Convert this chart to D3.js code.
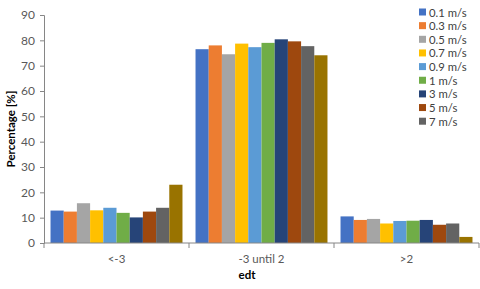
<!DOCTYPE html>
<html>
<head>
<meta charset="utf-8">
<script src="https://cdn.jsdelivr.net/npm/d3@7"></script>
<style>
  body { margin: 0; background: #fff; }
  text { font-family: Lato, "Open Sans", sans-serif; }
</style>
</head>
<body>
<svg width="480" height="289"></svg>
<script>
var categories = ['<-3', '-3 until 2', '>2'];
var seriesNames = ['0.1 m/s', '0.3 m/s', '0.5 m/s', '0.7 m/s', '0.9 m/s', '1 m/s', '3 m/s', '5 m/s', '7 m/s', '9 m/s'];
var seriesColors = ['#4472C4', '#ED7D31', '#A5A5A5', '#FFC000', '#5B9BD5', '#70AD47', '#264478', '#9E480E', '#636363', '#997300'];
var values = [
  [12.8, 76.5, 10.5],
  [12.4, 78.0, 9.1],
  [15.7, 74.5, 9.5],
  [12.9, 78.7, 7.7],
  [13.9, 77.3, 8.7],
  [11.9, 79.0, 8.8],
  [10.1, 80.4, 9.1],
  [12.4, 79.6, 7.2],
  [13.9, 77.7, 7.7],
  [23.0, 74.1, 2.4]
];
var legendCount = 9; // last series is cut off in the legend
var yTicks = [0, 10, 20, 30, 40, 50, 60, 70, 80, 90];

var margin = { top: 15, right: 1, bottom: 46, left: 44 },
  width = 480 - margin.left - margin.right,
  height = 289 - margin.top - margin.bottom;

var svg = d3.select('svg'),
  g = svg.append('g')
    .attr('transform', 'translate(' + margin.left + ',' + margin.top + ')');

var x0 = d3.scaleBand().domain(categories).range([0, width]).paddingInner(0.09).paddingOuter(0.045);
var x1 = d3.scaleBand().domain(d3.range(seriesNames.length)).range([0, x0.bandwidth()]);
var y = d3.scaleLinear().domain([0, 90]).range([height, 0]);

// bars
var group = g.selectAll('.cat')
  .data(categories)
  .enter().append('g')
  .attr('transform', function (d) { return 'translate(' + x0(d) + ',0)'; });

group.selectAll('rect')
  .data(function (d, ci) {
    return values.map(function (s, si) { return { si: si, v: s[ci] }; });
  })
  .enter().append('rect')
  .attr('x', function (d) { return x1(d.si); })
  .attr('width', x1.bandwidth())
  .attr('y', function (d) { return y(d.v); })
  .attr('height', function (d) { return height - y(d.v); })
  .attr('fill', function (d) { return seriesColors[d.si]; });

// y axis
var yAxis = g.append('g')
  .call(d3.axisLeft(y).tickValues(yTicks).tickSize(4).tickPadding(5));
yAxis.select('.domain').attr('stroke', '#868686');
yAxis.selectAll('.tick line').attr('stroke', '#868686');
yAxis.selectAll('.tick text').attr('fill', '#595959').style('font-size', '12px');

// x axis
var xAxis = g.append('g').attr('transform', 'translate(0,' + height + ')');
xAxis.append('line').attr('x1', 0).attr('x2', width).attr('stroke', '#868686');
var bounds = d3.range(categories.length + 1).map(function (i) { return i * width / categories.length; });
xAxis.selectAll('.bt')
  .data(bounds)
  .enter().append('line')
  .attr('x1', function (d) { return d; }).attr('x2', function (d) { return d; })
  .attr('y1', 0).attr('y2', 5)
  .attr('stroke', '#868686');
xAxis.selectAll('.lab')
  .data(categories)
  .enter().append('text')
  .attr('x', function (d) { return x0(d) + x0.bandwidth() / 2; })
  .attr('y', 20)
  .attr('text-anchor', 'middle')
  .attr('fill', '#595959')
  .style('font-size', '11.5px')
  .text(function (d) { return d; });

// axis titles
svg.append('text')
  .attr('x', 247).attr('y', 279)
  .attr('text-anchor', 'middle')
  .style('font-size', '11.5px').style('font-weight', 'bold')
  .attr('fill', '#000')
  .text('edt');

svg.append('text')
  .attr('transform', 'translate(15,129) rotate(-90)')
  .attr('text-anchor', 'middle')
  .style('font-size', '11.5px').style('font-weight', 'bold')
  .attr('fill', '#000')
  .text('Percentage [%]');

// legend
var legend = svg.append('g').attr('transform', 'translate(419,12)');
var item = legend.selectAll('.item')
  .data(seriesNames.slice(0, legendCount))
  .enter().append('g')
  .attr('transform', function (d, i) { return 'translate(0,' + (i * 13.65) + ')'; });
item.append('rect')
  .attr('x', 0).attr('y', -3.5).attr('width', 7).attr('height', 7)
  .attr('fill', function (d, i) { return seriesColors[i]; });
item.append('text')
  .attr('x', 10).attr('y', 4.5)
  .attr('fill', '#404040')
  .style('font-size', '11.3px')
  .text(function (d) { return d; });
</script>
</body>
</html>
